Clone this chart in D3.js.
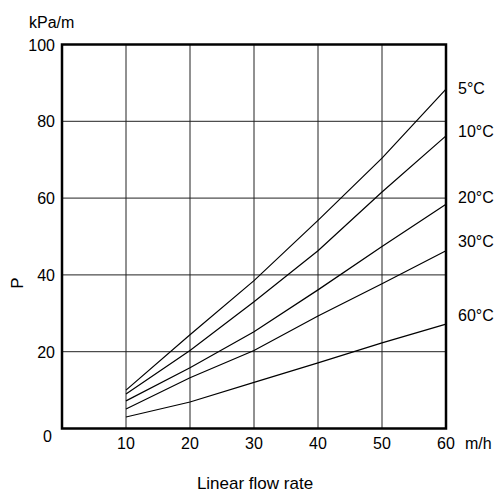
<!DOCTYPE html>
<html>
<head>
<meta charset="utf-8">
<script src="https://cdn.jsdelivr.net/npm/d3@7"></script>
<style>
  body { margin: 0; background: #fff; }
  text { font-family: "Liberation Sans", Arial, sans-serif; fill: #000; }
</style>
</head>
<body>
<script>
// flow rate (m/h)
const flowRates = [10, 20, 30, 40, 50, 60];
// pressure drop (kPa/m) per temperature
const temps = ["5°C", "10°C", "20°C", "30°C", "60°C"];
const p5 = [10.0, 24.4, 38.5, 54.2, 70.4, 88.4];
const p10 = [9.0, 20.3, 33.0, 46.3, 61.6, 76.2];
const p20 = [7.2, 15.8, 25.2, 36.1, 47.4, 58.4];
const p30 = [5.1, 13.2, 20.3, 29.3, 37.7, 46.3];
const p60 = [3.0, 6.9, 12.0, 17.1, 22.3, 27.2];
const xTicks = [0, 10, 20, 30, 40, 50, 60];
const yTicks = [0, 20, 40, 60, 80, 100];

const series = [p5, p10, p20, p30, p60];

const width = 501, height = 492;
const svg = d3.select("body").append("svg")
    .attr("width", width)
    .attr("height", height);

const x = d3.scaleLinear().domain([0, 60]).range([62, 446]);
const y = d3.scaleLinear().domain([0, 100]).range([428.5, 44.5]);

// grid
svg.append("g").selectAll("line")
    .data(xTicks.slice(1, -1))
    .join("line")
    .attr("x1", d => x(d)).attr("x2", d => x(d))
    .attr("y1", y(0)).attr("y2", y(100))
    .attr("stroke", "#222").attr("stroke-width", 1);

svg.append("g").selectAll("line")
    .data(yTicks.slice(1, -1))
    .join("line")
    .attr("x1", x(0)).attr("x2", x(60))
    .attr("y1", d => y(d)).attr("y2", d => y(d))
    .attr("stroke", "#222").attr("stroke-width", 1);

// curves
const line = d3.line()
    .x((d, i) => x(flowRates[i]))
    .y(d => y(d));

svg.append("g").selectAll("path")
    .data(series)
    .join("path")
    .attr("d", line)
    .attr("fill", "none")
    .attr("stroke", "#000")
    .attr("stroke-width", 1.2);

// frame
svg.append("rect")
    .attr("x", x(0)).attr("y", y(100))
    .attr("width", x(60) - x(0)).attr("height", y(0) - y(100))
    .attr("fill", "none")
    .attr("stroke", "#000")
    .attr("stroke-width", 2.5);

// y tick labels
svg.append("g").selectAll("text")
    .data(yTicks)
    .join("text")
    .attr("x", d => d === 0 ? 52 : 55)
    .attr("y", d => d === 0 ? y(d) + 13 : y(d) + 6)
    .attr("text-anchor", "end")
    .attr("font-size", 16)
    .text(d => d);

// x tick labels
svg.append("g").selectAll("text")
    .data(xTicks.slice(1))
    .join("text")
    .attr("x", d => x(d))
    .attr("y", 449)
    .attr("text-anchor", "middle")
    .attr("font-size", 16)
    .text(d => d);

svg.append("text").attr("x", 465).attr("y", 449)
    .attr("font-size", 16).text("m/h");
svg.append("text").attr("x", 29).attr("y", 28)
    .attr("font-size", 16).text("kPa/m");
svg.append("text").attr("x", 255).attr("y", 489)
    .attr("text-anchor", "middle").attr("font-size", 17).text("Linear flow rate");
svg.append("text")
    .attr("transform", "translate(23,283) rotate(-90)")
    .attr("text-anchor", "middle")
    .attr("font-size", 17).text("P");

// temperature labels
const labelY = [94, 137, 203, 247, 321];
svg.append("g").selectAll("text")
    .data(temps)
    .join("text")
    .attr("x", 458)
    .attr("y", (d, i) => labelY[i])
    .attr("font-size", 16)
    .text(d => d);
</script>
</body>
</html>
